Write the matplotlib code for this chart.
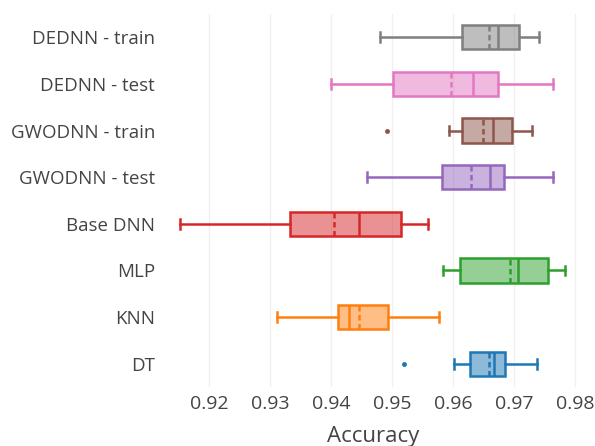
import matplotlib.pyplot as plt

plt.rcParams['font.family'] = ['Open Sans', 'DejaVu Sans']

# bottom to top
models = ['DT', 'KNN', 'MLP', 'Base DNN', 'GWODNN - test', 'GWODNN - train',
          'DEDNN - test', 'DEDNN - train']
colors = ['#1f77b4', '#ff7f0e', '#2ca02c', '#d62728', '#9467bd', '#8c564b',
          '#e377c2', '#7f7f7f']

whislo = [0.9601, 0.9312, 0.9584, 0.9153, 0.9458, 0.9593, 0.9400, 0.9480]
q1 = [0.9628, 0.9411, 0.9611, 0.9333, 0.9581, 0.9615, 0.9502, 0.9614]
med = [0.9667, 0.9429, 0.9706, 0.9445, 0.9661, 0.9666, 0.9633, 0.9673]
mean = [0.9658, 0.9445, 0.9693, 0.9405, 0.9629, 0.9649, 0.9596, 0.9658]
q3 = [0.9685, 0.9494, 0.9756, 0.9515, 0.9684, 0.9696, 0.9673, 0.9707]
whishi = [0.9738, 0.9576, 0.9783, 0.9559, 0.9763, 0.9729, 0.9763, 0.9740]
outliers = [[0.9520], [], [], [], [], [0.9492], [], []]

fig = plt.figure(figsize=(5.95, 4.46), dpi=100)
ax = fig.add_axes([169 / 595, 59 / 446, 409 / 595, 373 / 446])

for i, name in enumerate(models):
    stats = [dict(label=name, whislo=whislo[i], q1=q1[i], med=med[i], mean=mean[i],
                  q3=q3[i], whishi=whishi[i], fliers=outliers[i])]
    c = colors[i]
    ax.bxp(stats, positions=[i], widths=0.52, vert=False, patch_artist=True,
           showmeans=True, meanline=True, capwidths=0.21,
           boxprops=dict(facecolor=c + '80', edgecolor=c, linewidth=1.8),
           medianprops=dict(color=c, linewidth=1.8),
           meanprops=dict(color=c, linewidth=1.8, linestyle=(0, (2.2, 1.4))),
           whiskerprops=dict(color=c, linewidth=1.8),
           capprops=dict(color=c, linewidth=1.8),
           flierprops=dict(marker='o', markersize=2.5, markerfacecolor=c,
                           markeredgecolor=c))

ax.set_xlim(0.92 + (169 - 209) / 6105, 0.92 + (578 - 209) / 6105)
ax.set_ylim(-0.5, 7.5)
ax.set_yticks(range(len(models)))
ax.set_yticklabels(models)
ax.set_xticks([0.92, 0.93, 0.94, 0.95, 0.96, 0.97, 0.98])
ax.set_xticklabels(['0.92', '0.93', '0.94', '0.95', '0.96', '0.97', '0.98'])
ax.tick_params(axis='both', length=0, labelsize=14, colors='#444444')
ax.tick_params(axis='y', pad=10, labelsize=13.5)
ax.tick_params(axis='x', pad=6)
ax.grid(axis='x', color='#f0f0f0', linewidth=1)
ax.set_axisbelow(True)
for s in ax.spines.values():
    s.set_visible(False)
ax.set_xlabel('Accuracy', fontsize=16, color='#444444', labelpad=9)

fig.savefig('out.png', dpi=100)
